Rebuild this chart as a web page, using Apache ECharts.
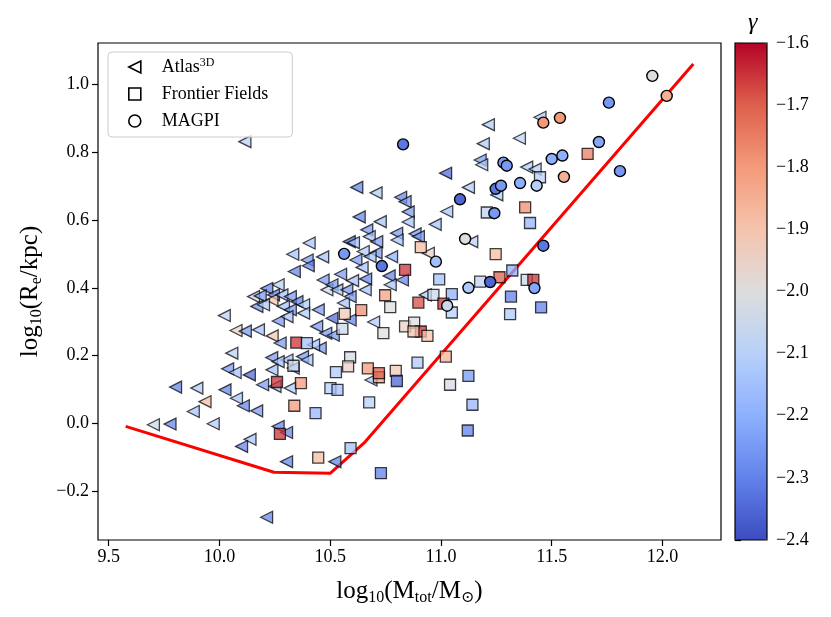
<!DOCTYPE html>
<html>
<head>
<meta charset="utf-8">
<script src="https://cdn.jsdelivr.net/npm/echarts@6/dist/echarts.min.js"></script>
<style>
  html, body { margin: 0; padding: 0; background: #fff; }
  #chart { width: 831px; height: 617px; }
</style>
</head>
<body>
<div id="chart"></div>
<script>
// Atlas3D (left triangles)
const atlasMass = [10.115, 10.620, 10.707, 10.818, 10.838, 10.852, 10.852, 11.026, 11.021, 10.631,
  10.726, 10.665, 10.676, 10.710, 10.800, 10.802, 10.883, 10.898, 10.974, 10.586,
  10.605, 10.405, 10.331, 10.396, 10.401, 10.466, 10.338, 10.649, 10.707, 10.616,
  10.680, 10.777, 10.644, 10.468, 10.547, 10.601, 10.660, 10.766, 10.826, 10.771,
  10.265, 10.214, 10.154, 10.184, 10.244, 10.237, 10.282, 10.320, 10.350, 10.485,
  10.508, 10.530, 10.575, 10.658, 10.169, 10.199, 10.289, 10.320, 10.380, 10.446,
  10.508, 10.560, 10.590, 10.022, 10.075, 10.117, 10.176, 10.238, 10.274, 10.266,
  10.305, 10.380, 10.439, 10.480, 10.514, 10.590, 10.696, 10.455, 10.425, 10.056,
  10.037, 10.071, 10.135, 10.195, 10.236, 10.237, 10.305, 10.375, 10.395, 10.319,
  9.802, 9.898, 10.025, 10.684, 10.077, 10.108, 10.168, 9.935, 9.882, 9.702,
  9.777, 9.972, 10.265, 10.303, 10.138, 10.100, 10.303, 10.521, 10.213, 10.251,
  10.333, 10.265, 11.214, 11.447, 11.191, 11.354, 11.177, 11.184, 11.124, 11.252,
  11.387, 11.425, 11.139, 10.943, 10.929];
const atlasSize = [0.831, 0.696, 0.680, 0.667, 0.654, 0.624, 0.594, 0.625, 0.738, 0.609,
  0.595, 0.571, 0.551, 0.536, 0.561, 0.541, 0.559, 0.551, 0.587, 0.536,
  0.533, 0.532, 0.499, 0.482, 0.465, 0.491, 0.448, 0.507, 0.503, 0.482,
  0.492, 0.492, 0.460, 0.423, 0.440, 0.421, 0.426, 0.435, 0.423, 0.409,
  0.409, 0.398, 0.374, 0.376, 0.379, 0.364, 0.379, 0.374, 0.359, 0.394,
  0.409, 0.394, 0.394, 0.394, 0.345, 0.350, 0.345, 0.335, 0.350, 0.335,
  0.310, 0.355, 0.374, 0.318, 0.274, 0.272, 0.276, 0.258, 0.237, 0.302,
  0.315, 0.325, 0.286, 0.266, 0.260, 0.305, 0.299, 0.222, 0.232, 0.207,
  0.161, 0.150, 0.143, 0.114, 0.194, 0.158, 0.187, 0.197, 0.187, 0.104,
  0.107, 0.104, 0.099, 0.128, 0.074, 0.052, 0.037, 0.064, 0.035, -0.004,
  -0.002, -0.001, -0.009, -0.027, -0.047, -0.068, -0.113, -0.113, -0.277, 0.109,
  0.163, 0.182, 0.881, 0.903, 0.825, 0.841, 0.777, 0.763, 0.696, 0.674,
  0.756, 0.750, 0.536, 0.502, 0.379];
const atlasGamma = [-2.1, -2.3, -2.12, -2.3, -2.25, -2.25, -2.15, -2.15, -2.35, -2.3,
  -2.15, -2.25, -2.15, -2.25, -2.25, -2.15, -2.25, -2.25, -2.15, -2.35,
  -2.15, -2.15, -2.15, -2.25, -2.3, -2.15, -2.3, -2.12, -2.25, -2.25,
  -2.15, -2.2, -2.15, -2.25, -2.25, -2.15, -2.3, -2.3, -2.3, -2.15,
  -2.1, -2.3, -2.05, -2.25, -2.3, -1.9, -2.15, -2.25, -2.3, -2.05,
  -2.25, -2.15, -2.25, -2.15, -2.25, -2.12, -2.15, -2.25, -2.12, -2.25,
  -2.35, -2.15, -2.25, -2.1, -1.95, -2.25, -2.15, -1.9, -2.25, -2.25,
  -2.15, -2.12, -2.25, -2.25, -2.25, -2.3, -2.12, -2.25, -2.15, -2.1,
  -2.25, -2.15, -2.35, -2.25, -2.25, -2.15, -2.15, -2.25, -2.15, -2.12,
  -2.3, -2.12, -2.3, -2.15, -2.15, -2.3, -2.25, -1.88, -2.15, -2.05,
  -2.3, -2.12, -2.3, -2.3, -2.15, -2.3, -2.3, -2.3, -2.3, -2.15,
  -2.15, -2.15, -2.12, -2.12, -2.12, -2.08, -2.25, -2.12, -2.12, -2.12,
  -2.12, -2.1, -2.1, -1.95, -2.12];

// Frontier Fields (squares)
const ffMass = [11.662, 11.380, 11.402, 11.207, 11.447, 10.909, 11.247, 10.838, 10.992, 11.177,
  11.264, 11.322, 11.387, 11.417, 11.049, 10.966, 10.898, 11.011, 11.049, 11.316,
  11.452, 11.312, 10.838, 10.879, 10.909, 10.939, 10.876, 11.022, 10.894, 11.124,
  11.041, 11.142, 11.121, 10.748, 10.771, 10.640, 10.566, 10.555, 10.740, 10.347,
  10.395, 10.334, 10.590, 10.581, 10.526, 10.670, 10.720, 10.720, 10.796, 10.801,
  10.260, 10.368, 10.501, 10.533, 10.676, 10.338, 10.434, 10.273, 10.446, 10.592,
  10.729];
const ffSize = [0.795, 0.637, 0.591, 0.622, 0.726, 0.520, 0.499, 0.453, 0.425, 0.418,
  0.431, 0.451, 0.423, 0.423, 0.381, 0.379, 0.356, 0.353, 0.327, 0.374,
  0.342, 0.322, 0.286, 0.297, 0.271, 0.258, 0.271, 0.197, 0.179, 0.140,
  0.114, 0.055, -0.021, 0.378, 0.343, 0.334, 0.323, 0.279, 0.266, 0.238,
  0.237, 0.170, 0.195, 0.168, 0.151, 0.162, 0.136, 0.148, 0.155, 0.125,
  0.122, 0.119, 0.104, 0.099, 0.062, 0.052, 0.030, -0.031, -0.101, -0.073,
  -0.147];
const ffGamma = [-1.75, -1.78, -2.18, -2.08, -2.1, -1.88, -1.88, -1.65, -2.15, -2.08,
  -1.7, -2.2, -2.05, -1.65, -2.2, -2.05, -1.68, -1.65, -2.1, -2.3,
  -2.3, -2.12, -1.95, -2.0, -1.65, -1.9, -1.9, -1.85, -2.12, -2.25,
  -2.02, -2.18, -2.3, -1.82, -2.0, -1.78, -1.92, -2.05, -2.0, -1.65,
  -2.15, -2.05, -2.02, -1.95, -2.12, -1.8, -1.82, -1.7, -1.92, -2.35,
  -1.65, -1.8, -2.1, -2.15, -2.1, -1.8, -2.18, -1.65, -1.88, -2.15,
  -2.3];

// MAGPI (circles)
const mgMass = [11.954, 12.019, 11.758, 11.462, 11.537, 10.829, 11.713, 11.282, 11.297, 11.500,
  11.548, 11.808, 11.555, 11.357, 11.432, 11.247, 11.271, 11.086, 11.241, 11.109,
  11.462, 10.977, 11.124, 11.222, 11.422, 11.028, 10.563, 10.733];
const mgSize = [1.025, 0.966, 0.946, 0.887, 0.901, 0.823, 0.830, 0.769, 0.760, 0.780,
  0.790, 0.744, 0.727, 0.709, 0.701, 0.692, 0.701, 0.661, 0.620, 0.544,
  0.524, 0.477, 0.400, 0.417, 0.399, 0.347, 0.500, 0.464];
const mgGamma = [-2.0, -1.85, -2.25, -1.8, -1.8, -2.32, -2.22, -2.25, -2.25, -2.2,
  -2.2, -2.25, -1.85, -2.2, -2.1, -2.32, -2.25, -2.35, -2.25, -2.0,
  -2.32, -2.15, -2.12, -2.35, -2.22, -2.05, -2.25, -2.32];

// red relation
const lineMass = [9.577, 10.246, 10.501, 10.657, 12.139];
const lineSize = [-0.009, -0.144, -0.147, -0.055, 1.060];

const xTicks = [9.5, 10.0, 10.5, 11.0, 11.5, 12.0];
const yTicks = [-0.2, 0.0, 0.2, 0.4, 0.6, 0.8, 1.0];
const cbTicks = [-2.4, -2.3, -2.2, -2.1, -2.0, -1.9, -1.8, -1.7, -1.6];

const coolwarm = ['#3b4cc0', '#6282ea', '#8db0fe', '#b8d0f9', '#dddddd',
  '#f5c4ad', '#f49a7b', '#de604d', '#b40426'];

const serif = "'Liberation Serif', 'DejaVu Serif', serif";
const triLeft = 'path://M0,5 L10,0 L10,10 Z';

const zip3 = (a, b, c) => a.map((v, i) => [v, b[i], c[i]]);
const fmt = v => v.toFixed(1).replace('-', '\u2212');

const tick = {show: true, inside: false, length: 6, lineStyle: {color: '#000', width: 1.2}};

let myChart = echarts.init(document.getElementById('chart'), null, {renderer: 'canvas'});
myChart.setOption({
  animation: false,
  title: {
    text: 'γ', left: 743, top: 6,
    textStyle: {fontFamily: serif, fontStyle: 'italic', fontWeight: 'normal', fontSize: 24, color: '#000'}
  },
  grid: [
    {left: 98, right: 110, top: 43, bottom: 77, show: true, borderColor: '#000', borderWidth: 1.2, backgroundColor: 'transparent'},
    {left: 735, width: 32, top: 43, height: 497, show: true, borderColor: '#000', borderWidth: 1.2, backgroundColor: 'transparent', z: 10}
  ],
  legend: {
    orient: 'vertical', left: 108, top: 52,
    padding: [5, 24, 7, 20], itemGap: 9,
    itemWidth: 12, itemHeight: 12,
    backgroundColor: 'rgba(255,255,255,0.8)',
    borderColor: '#cccccc', borderWidth: 1, borderRadius: 4,
    data: [
      {name: 'Atlas3D', icon: triLeft, itemStyle: {color: '#fff', borderColor: '#000', borderWidth: 1.6, opacity: 1}},
      {name: 'Frontier Fields', icon: 'rect', itemStyle: {color: '#fff', borderColor: '#000', borderWidth: 1.6, opacity: 1}},
      {name: 'MAGPI', icon: 'circle', itemStyle: {color: '#fff', borderColor: '#000', borderWidth: 1.6, opacity: 1}}
    ],
    formatter: name => name === 'Atlas3D' ? '{a|Atlas}{s|3D}' : '{a|' + name + '}',
    textStyle: {
      padding: [0, 0, 0, 16],
      rich: {
        a: {fontFamily: serif, fontSize: 18, color: '#000', lineHeight: 20},
        s: {fontFamily: serif, fontSize: 12, color: '#000', lineHeight: 12, verticalAlign: 'top'}
      }
    }
  },
  visualMap: {
    type: 'continuous', min: -2.4, max: -1.6, dimension: 2,
    seriesIndex: [1, 2, 3],
    left: 735, top: 43, itemWidth: 32, itemHeight: 497, padding: 0,
    calculable: false, hoverLink: false, text: null,
    inRange: {color: coolwarm}
  },
  xAxis: [
    {
      type: 'value', gridIndex: 0, min: 9.452, max: 12.264,
      axisLine: {show: false, onZero: false},
      axisTick: Object.assign({customValues: xTicks}, tick),
      axisLabel: {customValues: xTicks, formatter: fmt, fontFamily: serif, fontSize: 18, color: '#000', margin: 8},
      splitLine: {show: false},
      name: '{a|log}{s|10}{a|(M}{s|tot}{a|/M}{s|⊙}{a|)}',
      nameLocation: 'middle', nameGap: 36,
      nameTextStyle: {
        rich: {
          a: {fontFamily: serif, fontSize: 25, color: '#000', lineHeight: 30},
          s: {fontFamily: serif, fontSize: 16, color: '#000', lineHeight: 14, verticalAlign: 'bottom'}
        }
      }
    },
    {type: 'value', gridIndex: 1, min: 0, max: 1, show: false}
  ],
  yAxis: [
    {
      type: 'value', gridIndex: 0, min: -0.344, max: 1.122,
      axisLine: {show: false, onZero: false},
      axisTick: Object.assign({customValues: yTicks}, tick),
      axisLabel: {customValues: yTicks, formatter: fmt, fontFamily: serif, fontSize: 18, color: '#000', margin: 9},
      splitLine: {show: false},
      name: '{a|log}{s|10}{a|(R}{s|e}{a|/kpc)}',
      nameLocation: 'middle', nameGap: 53, nameRotate: 90,
      nameTextStyle: {
        rich: {
          a: {fontFamily: serif, fontSize: 25, color: '#000', lineHeight: 30},
          s: {fontFamily: serif, fontSize: 16, color: '#000', lineHeight: 14, verticalAlign: 'bottom'}
        }
      }
    },
    {
      type: 'value', gridIndex: 1, position: 'right', min: -2.4, max: -1.6,
      axisLine: {show: false},
      axisTick: Object.assign({customValues: cbTicks}, tick),
      axisLabel: {customValues: cbTicks, formatter: fmt, fontFamily: serif, fontSize: 18, color: '#000', margin: 9,
        showMinLabel: true, showMaxLabel: true},
      splitLine: {show: false}
    }
  ],
  series: [
    {
      type: 'line', xAxisIndex: 0, yAxisIndex: 0, z: 1,
      data: lineMass.map((v, i) => [v, lineSize[i]]),
      symbol: 'none', lineStyle: {color: '#ff0000', width: 3}, silent: true
    },
    {
      name: 'Atlas3D', type: 'scatter', z: 2,
      symbol: triLeft, symbolSize: 12,
      data: zip3(atlasMass, atlasSize, atlasGamma),
      itemStyle: {borderColor: '#000', borderWidth: 1.3, opacity: 0.72}
    },
    {
      name: 'Frontier Fields', type: 'scatter', z: 3,
      symbol: 'rect', symbolSize: 11,
      data: zip3(ffMass, ffSize, ffGamma),
      itemStyle: {borderColor: '#000', borderWidth: 1.3, opacity: 0.75}
    },
    {
      name: 'MAGPI', type: 'scatter', z: 4,
      symbol: 'circle', symbolSize: 11,
      data: zip3(mgMass, mgSize, mgGamma),
      itemStyle: {borderColor: '#000', borderWidth: 1.4, opacity: 1}
    }
  ]
});
</script>
</body>
</html>
